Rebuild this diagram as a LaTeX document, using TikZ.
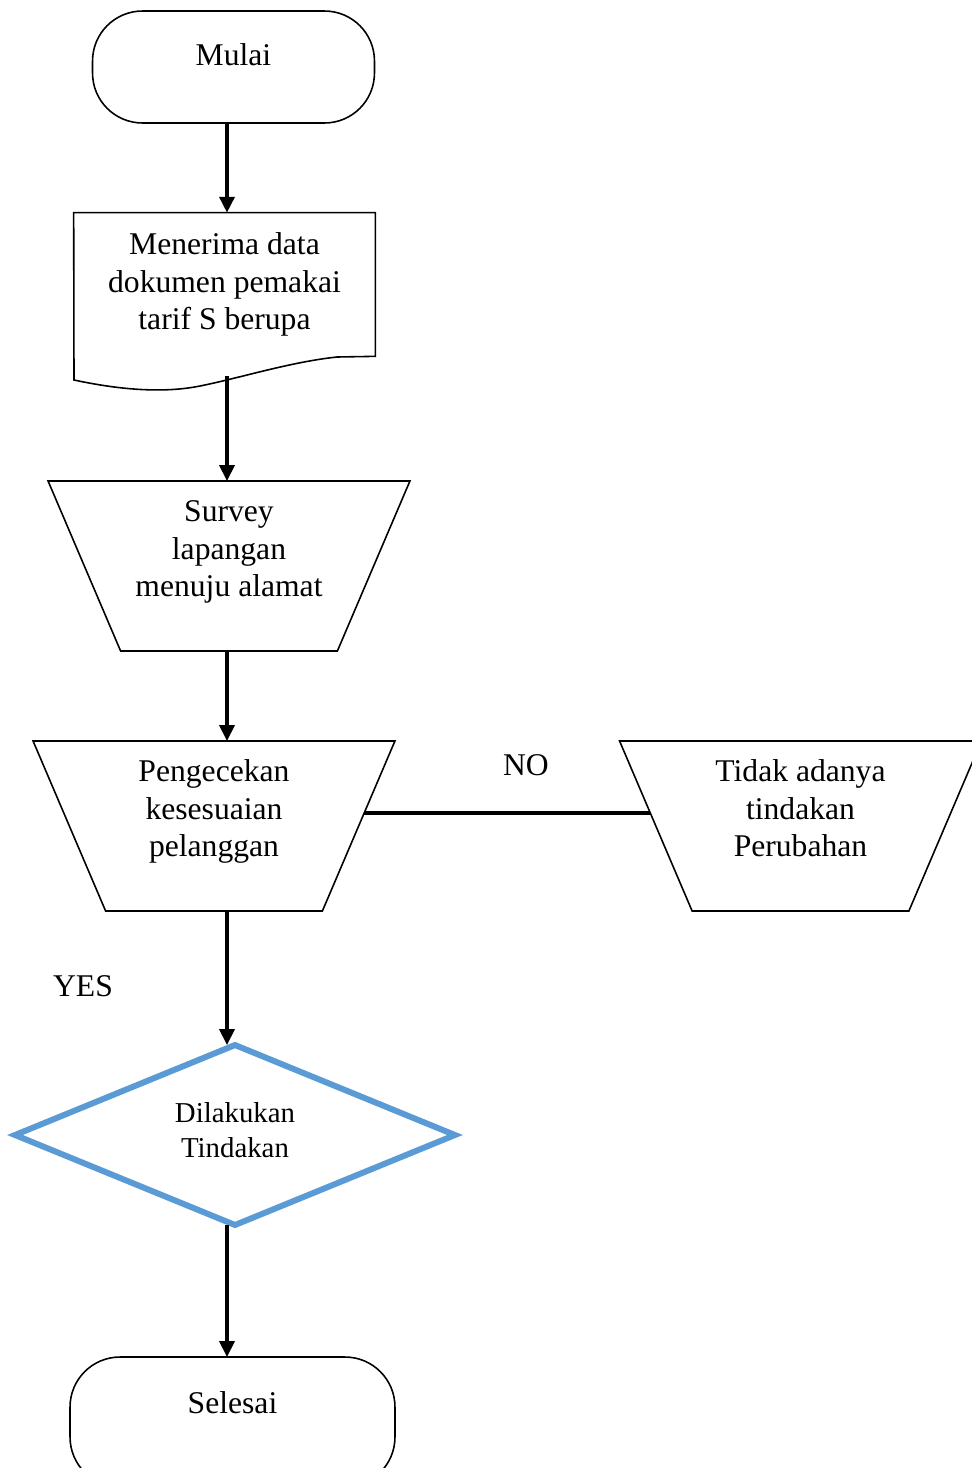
\documentclass[tikz,border=0pt]{standalone}
\usepackage{fontspec}
\setmainfont{Liberation Serif}
\usetikzlibrary{shapes,arrows.meta,positioning,calc}
\usepackage{xcolor}
\definecolor{decisionblue}{RGB}{91,155,213}

\begin{document}
\begin{tikzpicture}[x=0.02cm, y=-0.02cm,
    terminal/.style={rectangle, draw, line width=0.9pt, rounded corners=1cm, inner sep=0pt, outer sep=0pt},
    manual/.style={trapezium, draw, line width=0.9pt, shape border rotate=180, trapezium angle=71.5, trapezium stretches=true, minimum width=7.24cm, minimum height=3.4cm, inner sep=2pt, outer sep=0pt},
    caption/.style={align=center, font=\fontsize{18}{21.3}\selectfont},
    decision/.style={diamond, draw=decisionblue, line width=3.4pt, minimum width=8.8cm, minimum height=3.6cm, inner sep=2pt, outer sep=0pt},
    smallcaption/.style={align=center, font=\fontsize{16.4}{19.8}\selectfont},
    flow/.style={line width=2pt, -{Triangle[length=9pt, width=8.5pt]}}]
    \useasboundingbox (0,0) rectangle (972,1468);
    \node [terminal, minimum width=5.64cm, minimum height=2.24cm, label={[caption, yshift=0.24cm]center:Mulai}] (mulai) at (233.5,67) {};
    \node [caption, minimum width=6.02cm, minimum height=2.86cm, inner sep=0pt] (doc) at (224.5,284.5) {Menerima data\\dokumen pemakai\\tarif S berupa};
    \draw[line width=0.9pt] (doc.north west) -- (doc.north east) -- (doc.south east) -- (337,357) .. controls (290,362) and (240,378) .. (200,386) .. controls (170,392) and (130,392) .. (74,380) -- cycle;
    \node [manual, label={[caption, yshift=0.28cm]center:{Survey\\lapangan\\menuju alamat}}] (survey) at (229,566) {};
    \node [manual, label={[caption, yshift=0.29cm]center:{Pengecekan\\kesesuaian\\pelanggan}}] (cek) at (214,826) {};
    \node [manual, label={[caption, yshift=0.354cm]center:{Tidak adanya\\tindakan\\Perubahan}}] (tidak) at (800.5,826) {};
    \node [decision, label={[smallcaption, yshift=0.09cm]center:{Dilakukan\\Tindakan}}] (dilakukan) at (235,1135) {};
    \node [terminal, minimum width=6.5cm, minimum height=2.6cm, label={[caption, yshift=0.38cm]center:Selesai}] (selesai) at (232.5,1422) {};
    \node [caption] (no) at (526,765) {NO};
    \node [caption] (yes) at (83,986) {YES};
    \coordinate (axis) at (227,0);
    \coordinate (docfoot) at (227,376);
    \draw[flow] (mulai.south -| axis) -- (doc.north -| axis);
    \draw[flow] (docfoot) -- (survey.north -| axis);
    \draw[flow] (survey.south -| axis) -- (cek.north -| axis);
    \draw[flow] (cek.south -| axis) -- (dilakukan.north -| axis);
    \draw[flow] (dilakukan.south -| axis) -- (selesai.north -| axis);
    \draw[line width=2.2pt] (cek.5) -- (tidak.175);
\end{tikzpicture}
\end{document}
